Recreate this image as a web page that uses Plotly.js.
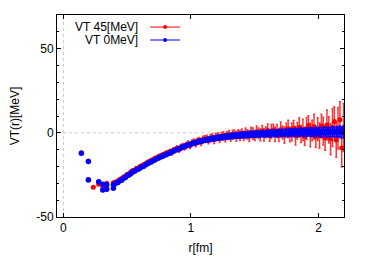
<!DOCTYPE html>
<html><head><meta charset="utf-8">
<script src="https://cdn.plot.ly/plotly-3.0.1.min.js"></script>
<style>html,body{margin:0;padding:0;background:#fff}#c{width:366px;height:256px}</style>
</head><body><div id="c"></div>
<script>
const seriesNames = ["VT 45[MeV]", "VT 0MeV]"];
const xTicks = [0, 1, 2];
const yTicks = [-50, 0, 50];

// discrete points at small r
const rEarlyRed = [0.141, 0.196, 0.196, 0.235, 0.277, 0.309, 0.340, 0.392];
const vEarlyRed = [-11.8, -16.8, -27.7, -32.3, -30.5, -32.0, -29.9, -29.6];
const eEarlyRed = [0.3, 0.3, 0.3, 0.4, 0.4, 0.4, 0.4, 0.4];
const rEarlyBlue = [0.141, 0.196, 0.196, 0.277, 0.309, 0.309, 0.340, 0.340, 0.392, 0.392];
const vEarlyBlue = [-12.1, -17.1, -28.0, -29.0, -30.5, -33.9, -30.9, -33.5, -30.9, -32.9];
const eEarlyBlue = [0.2, 0.2, 0.2, 0.3, 0.3, 0.3, 0.3, 0.3, 0.3, 0.3];

// dense region
const rDense = [
0.400,0.414,0.428,0.443,0.457,0.472,0.486,0.500,0.515,0.529,
0.544,0.558,0.573,0.587,0.602,0.616,0.631,0.645,0.660,0.674,
0.689,0.703,0.718,0.732,0.747,0.761,0.776,0.790,0.805,0.819,
0.834,0.848,0.863,0.877,0.892,0.906,0.921,0.935,0.950,0.964,
0.979,0.993,1.008,1.022,1.037,1.051,1.066,1.080,1.095,1.109,
1.124,1.138,1.153,1.167,1.182,1.196,1.211,1.225,1.240,1.254,
1.269,1.283,1.298,1.312,1.327,1.341,1.356,1.370,1.385,1.399,
1.414,1.428,1.443,1.457,1.472,1.486,1.501,1.515,1.530,1.544,
1.559,1.573,1.588,1.602,1.617,1.631,1.646,1.660,1.675,1.689,
1.704,1.718,1.733,1.747,1.762,1.776,1.791,1.805,1.820,1.834,
1.849,1.863,1.878,1.892,1.907,1.921,1.936,1.950,1.965,1.979,
1.994,2.008,2.023,2.037,2.052,2.066,2.081,2.095,2.110,2.124,
2.139,2.153,2.168,2.182,2.197];
const vBlue = [
-30.6,-29.8,-29.5,-28.4,-28.1,-27.0,-26.6,-25.4,-25.0,-24.1,
-23.2,-22.8,-21.9,-21.6,-20.9,-20.2,-19.8,-18.9,-18.4,-17.6,
-17.3,-16.5,-16.1,-15.3,-15.0,-14.3,-14.0,-13.3,-13.0,-12.4,
-12.0,-11.2,-10.9,-10.3,-9.9,-9.4,-9.0,-8.4,-8.0,-7.7,
-7.2,-6.9,-6.5,-6.0,-5.8,-5.4,-5.1,-4.9,-4.6,-4.3,
-4.1,-3.9,-3.7,-3.4,-3.3,-3.1,-2.9,-2.8,-2.6,-2.5,
-2.3,-2.2,-2.1,-1.9,-1.8,-1.7,-1.6,-1.5,-1.4,-1.3,
-1.2,-1.2,-1.0,-1.1,-0.9,-0.8,-0.9,-0.7,-0.6,-0.7,
-0.5,-0.6,-0.4,-0.3,-0.5,-0.2,-0.3,-0.1,-0.2,0.0,
-0.1,0.1,0.0,0.2,-0.1,0.3,0.1,0.2,0.4,0.1,
0.3,0.5,0.2,0.4,0.1,0.6,0.3,0.5,0.2,0.6,
0.4,0.7,0.3,0.5,0.8,0.2,0.6,0.4,0.9,0.3,
0.7,0.5,0.9,0.2,0.6];
const eBlue = [
0.5,0.5,0.5,0.5,0.5,0.6,0.5,0.6,0.5,0.6,
0.6,0.6,0.7,0.6,0.7,0.6,0.7,0.7,0.6,0.7,
0.7,0.7,0.8,0.7,0.8,0.8,0.9,0.8,0.9,0.8,
0.9,0.9,1.0,0.9,1.0,1.0,1.1,1.0,1.1,1.0,
1.1,1.1,1.2,1.1,1.2,1.2,1.2,1.3,1.2,1.3,
1.3,1.3,1.4,1.4,1.3,1.4,1.4,1.5,1.4,1.5,
1.5,1.5,1.6,1.5,1.6,1.6,1.6,1.7,1.6,1.7,
1.7,1.7,1.8,1.7,1.8,1.8,1.8,1.9,1.9,1.8,
1.9,1.9,2.0,1.9,2.0,2.0,2.0,2.1,2.1,2.0,
2.1,2.1,2.2,2.1,2.2,2.2,2.3,2.2,2.3,2.3,
2.4,2.3,2.4,2.4,2.5,2.4,2.5,2.5,2.6,2.5,
2.6,2.7,2.6,2.8,2.7,2.8,2.9,2.8,3.0,2.9,
3.1,3.0,3.3,3.2,3.5];
const vRed = [
-29.6,-29.0,-28.6,-27.6,-27.2,-26.2,-25.8,-24.6,-24.3,-23.2,
-22.4,-22.3,-21.0,-21.0,-19.9,-19.6,-18.8,-18.3,-17.5,-17.0,
-16.4,-16.0,-15.1,-14.9,-14.1,-13.8,-13.2,-12.8,-12.2,-11.9,
-11.3,-11.8,-10.2,-10.0,-9.2,-10.0,-8.4,-8.0,-8.5,-7.2,
-6.6,-7.5,-6.0,-5.4,-6.3,-4.8,-4.6,-5.5,-4.0,-3.8,
-3.4,-4.5,-3.1,-2.8,-4.0,-2.5,-2.3,-3.4,-2.0,-1.8,
-2.8,-1.6,-1.2,-2.5,-1.1,-0.8,-2.2,-0.7,-1.7,-0.4,
-1.8,-0.2,-0.9,-2.0,0.4,-0.5,-1.6,0.7,-0.2,-1.2,
1.0,-1.1,0.3,1.4,-1.5,0.8,1.7,-0.8,1.1,-1.6,
2.0,0.2,-1.4,1.6,2.4,-1.0,0.6,2.7,-1.8,1.2,
3.2,-0.7,1.8,-2.2,2.6,4.4,-1.2,1.4,3.7,-2.4,
2.2,-1.7,4.0,1.0,-3.0,4.7,1.7,-3.7,3.2,6.7,
-4.2,2.7,7.7,-9.0,3.2];
const eRed = [
0.8,0.7,0.8,0.9,0.7,0.8,0.9,0.8,0.9,0.8,
0.9,1.0,0.9,1.0,0.9,1.1,1.0,1.1,1.0,1.1,
1.1,1.2,1.1,1.2,1.3,1.2,1.3,1.3,1.4,1.3,
1.4,1.5,1.4,1.5,1.5,1.6,1.5,1.6,1.7,1.6,
1.7,1.8,1.7,1.8,1.9,1.8,1.9,2.0,1.9,2.0,
2.1,2.0,2.1,2.2,2.3,2.1,2.3,2.4,2.2,2.4,
2.5,2.3,2.6,2.5,2.7,2.4,2.8,2.6,2.9,2.7,
2.8,3.1,2.7,3.2,2.9,3.3,3.0,3.4,3.1,3.5,
3.3,3.7,3.2,3.9,3.5,4.1,3.4,4.3,3.8,3.6,
4.5,3.9,4.8,4.1,5.1,4.3,5.3,4.6,5.5,4.9,
5.8,5.1,6.3,5.3,6.5,5.8,7.1,6.1,7.3,6.3,
6.8,7.5,7.1,8.3,7.3,8.8,7.8,9.3,11.3,8.8,
10.3,12.3,10.8,11.3,14.3];

const RED = "rgb(255,0,0)", BLUE = "rgb(0,0,255)";
const traces = [
  {type:"scatter", mode:"markers", showlegend:false,
   x: rEarlyRed.concat(rDense), y: vEarlyRed.concat(vRed),
   error_y:{type:"data", array: eEarlyRed.concat(eRed), color:"rgba(255,0,0,0.8)", thickness:1.5, width:1},
   marker:{color:RED, size:5}},
  {type:"scatter", mode:"markers", showlegend:false,
   x: rEarlyBlue.concat(rDense), y: vEarlyBlue.concat(vBlue),
   error_y:{type:"data", array: eEarlyBlue.concat(eBlue), color:"rgb(0,0,255)", thickness:1.5, width:1},
   marker:{color:BLUE, size:5.5}},
  {type:"scatter", mode:"lines+markers", name:" ", x:[null], y:[null], legend:"legend",
   line:{color:RED, width:1}, marker:{color:RED, size:4}},
  {type:"scatter", mode:"lines+markers", name:" ", x:[null], y:[null], legend:"legend2",
   line:{color:BLUE, width:1}, marker:{color:BLUE, size:4}}
];

const font = {family:"Liberation Sans, Arial, sans-serif", size:12, color:"#000"};
const legBase = {x:0.307, xanchor:"left", yanchor:"top", bgcolor:"rgba(0,0,0,0)",
                 font:{family:font.family, size:9}, itemwidth:30};
const layout = {
  width:366, height:256,
  margin:{l:57, r:22, t:15, b:39, pad:0},
  paper_bgcolor:"#fff", plot_bgcolor:"#fff",
  font: font,
  showlegend:true,
  legend:Object.assign({}, legBase, {y:1.012}),
  legend2:Object.assign({}, legBase, {y:0.948}),
  xaxis:{range:[-0.05, 2.2], tickvals:xTicks, ticktext:xTicks.map(String),
         ticks:"inside", ticklen:4, tickcolor:"#000", showline:true, linecolor:"#000", linewidth:1,
         mirror:"ticks", showgrid:false, zeroline:false,
         title:{text:"r[fm]", font:font, standoff:9}},
  yaxis:{range:[-50, 70], tickvals:yTicks, ticktext:yTicks.map(String),
         ticks:"inside", ticklen:4, tickcolor:"#000", showline:true, linecolor:"#000", linewidth:1,
         mirror:"ticks", showgrid:false, zeroline:false,
         minor:{dtick:10, tick0:0, ticks:"inside", ticklen:2, tickcolor:"#000"},
         title:{text:"VT(r)[MeV]", font:font, standoff:14}},
  shapes:[
    {type:"line", xref:"paper", x0:0, x1:1, yref:"y", y0:0, y1:0, line:{color:"#bbb", width:0.8, dash:"dot"}, layer:"below"},
    {type:"line", xref:"x", x0:0, x1:0, yref:"paper", y0:0, y1:1, line:{color:"#bbb", width:0.8, dash:"dot"}, layer:"below"}
  ],
  annotations:[
    {text:seriesNames[0], xref:"paper", yref:"paper", x:0.289, y:0.94, xanchor:"right", yanchor:"middle", showarrow:false, font:font},
    {text:seriesNames[1], xref:"paper", yref:"paper", x:0.289, y:0.876, xanchor:"right", yanchor:"middle", showarrow:false, font:font}
  ]
};
Plotly.newPlot("c", traces, layout, {staticPlot:true, displayModeBar:false});
</script></body></html>
